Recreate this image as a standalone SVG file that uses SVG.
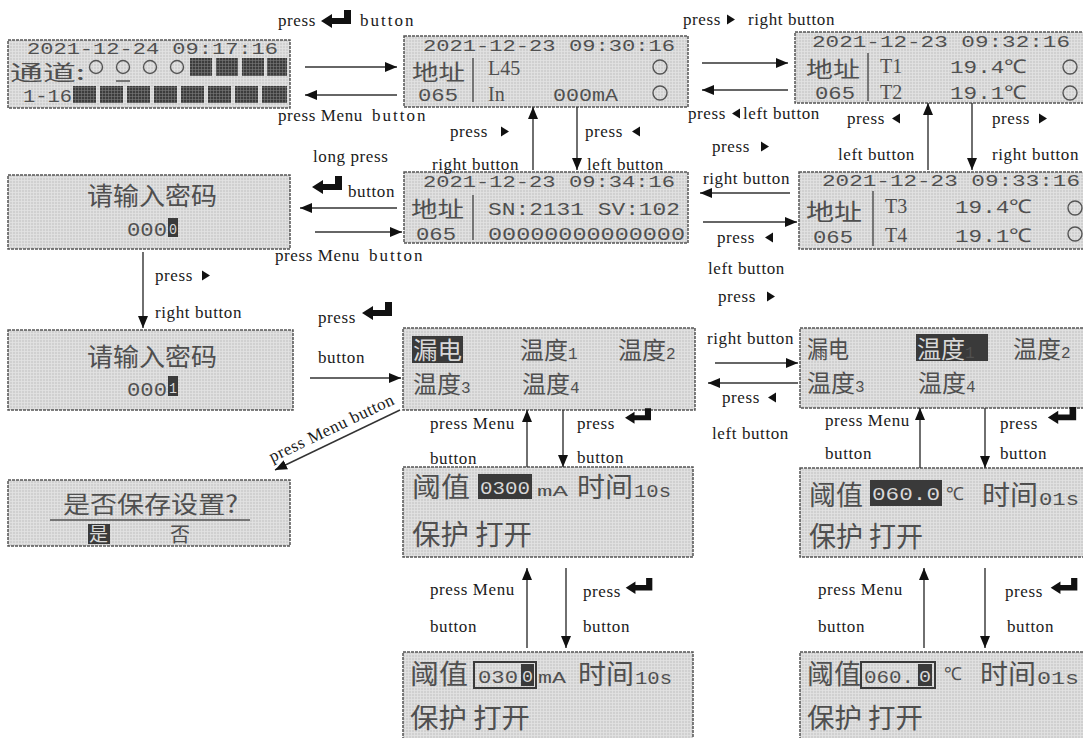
<svg xmlns="http://www.w3.org/2000/svg" width="1083" height="738" viewBox="0 0 1083 738">
<style>
.lbl{font-family:"Liberation Serif",serif;font-size:17px;letter-spacing:0.6px;fill:#1a1a1a}
.sp{letter-spacing:2px}
.cj{font-family:"Noto Sans CJK SC",sans-serif;fill:#4f4f4f}
.mo{font-family:"Liberation Mono",monospace;fill:#505050}
.sf{font-family:"Liberation Serif",serif;fill:#4f4f4f}
.inv{fill:#d8d8d8}
.scr{fill:url(#grid);stroke:#555;stroke-width:1.5;stroke-dasharray:3 1}
.dk{fill:url(#dgrid)}
.cur{fill:#3a3a3a}
.sep{stroke:#555;stroke-width:1.5}
.ring{fill:none;stroke:#555;stroke-width:1.4}
.ar{stroke:#333;stroke-width:1.4;fill:none;marker-end:url(#ah)}
</style>
<defs>
<pattern id="grid" width="3" height="3" patternUnits="userSpaceOnUse">
<rect width="3" height="3" fill="#d0d0d0"/>
<path d="M0 0.5H3M0.5 0V3" stroke="#e3e3e3" stroke-width="0.8"/>
</pattern>
<pattern id="dgrid" width="3" height="3" patternUnits="userSpaceOnUse">
<rect width="3" height="3" fill="#3c3c3c"/>
<path d="M0 0.5H3M0.5 0V3" stroke="#7a7a7a" stroke-width="0.6"/>
</pattern>
<marker id="ah" markerUnits="userSpaceOnUse" markerWidth="12" markerHeight="10" refX="12" refY="5" orient="auto" viewBox="0 0 12 10">
<path d="M0,0 L12,5 L0,10 z" fill="#111"/>
</marker>
<symbol id="ent" viewBox="0 0 30 18"><path d="M23 0H30V14H11V18L0 11L11 4V8H23Z" fill="#111"/></symbol>
<symbol id="tr" viewBox="0 0 8 10"><path d="M0 0L8 5L0 10Z" fill="#111"/></symbol>
<symbol id="tl" viewBox="0 0 8 10"><path d="M8 0L0 5L8 10Z" fill="#111"/></symbol>
</defs>
<rect width="1083" height="738" fill="#fff"/>

<g id="screenA">
<rect class="scr" x="8" y="40" width="282" height="68"/>
<text class="mo" x="27" y="54" font-size="17" textLength="251" lengthAdjust="spacingAndGlyphs">2021-12-24 09:17:16</text>
<text class="cj" x="10" y="80" font-size="21" textLength="75" lengthAdjust="spacingAndGlyphs">通道:</text>
<circle class="ring" cx="96" cy="67" r="6.5"/><circle class="ring" cx="123" cy="67" r="6.5"/><circle class="ring" cx="150" cy="67" r="6.5"/><circle class="ring" cx="177" cy="67" r="6.5"/>
<line class="sep" x1="116" y1="81" x2="130" y2="81"/>
<rect class="dk" x="190" y="58" width="22" height="18"/><rect class="dk" x="216" y="58" width="22" height="18"/><rect class="dk" x="242" y="58" width="22" height="18"/><rect class="dk" x="267" y="58" width="20" height="18"/>
<text class="mo" x="23" y="102" font-size="18" textLength="49" lengthAdjust="spacingAndGlyphs">1-16</text>
<rect class="dk" x="73" y="86" width="23" height="17"/><rect class="dk" x="100" y="86" width="23" height="17"/><rect class="dk" x="127" y="86" width="23" height="17"/><rect class="dk" x="154" y="86" width="23" height="17"/><rect class="dk" x="181" y="86" width="23" height="17"/><rect class="dk" x="208" y="86" width="23" height="17"/><rect class="dk" x="235" y="86" width="23" height="17"/><rect class="dk" x="262" y="86" width="25" height="17"/>
</g>

<g id="screenB">
<rect class="scr" x="404" y="36" width="284" height="71"/>
<text class="mo" x="423" y="51" font-size="17" textLength="252" lengthAdjust="spacingAndGlyphs">2021-12-23 09:30:16</text>
<text class="cj" x="412" y="80" font-size="22" textLength="53" lengthAdjust="spacingAndGlyphs">地址</text>
<line class="sep" x1="473" y1="58" x2="473" y2="102"/>
<text class="sf" x="488" y="75" font-size="20">L45</text>
<circle class="ring" cx="660" cy="67" r="7"/>
<text class="mo" x="418" y="101" font-size="19" textLength="40" lengthAdjust="spacingAndGlyphs">065</text>
<text class="sf" x="488" y="101" font-size="20">In</text>
<text class="mo" x="553" y="101" font-size="19" textLength="65" lengthAdjust="spacingAndGlyphs">000mA</text>
<circle class="ring" cx="660" cy="93" r="7"/>
</g>

<g id="screenC">
<rect class="scr" x="795" y="32" width="295" height="71"/>
<text class="mo" x="812" y="47" font-size="17" textLength="258" lengthAdjust="spacingAndGlyphs">2021-12-23 09:32:16</text>
<text class="cj" x="806" y="77" font-size="22" textLength="54" lengthAdjust="spacingAndGlyphs">地址</text>
<line class="sep" x1="868" y1="53" x2="868" y2="101"/>
<text class="sf" x="880" y="73" font-size="20">T1</text>
<text class="mo" x="950" y="73" font-size="19" textLength="77" lengthAdjust="spacingAndGlyphs">19.4℃</text>
<circle class="ring" cx="1070" cy="67" r="7"/>
<text class="mo" x="815" y="99" font-size="19" textLength="40" lengthAdjust="spacingAndGlyphs">065</text>
<text class="sf" x="880" y="99" font-size="20">T2</text>
<text class="mo" x="950" y="99" font-size="19" textLength="77" lengthAdjust="spacingAndGlyphs">19.1℃</text>
<circle class="ring" cx="1070" cy="93" r="7"/>
</g>

<g id="screenD">
<rect class="scr" x="404" y="172" width="284" height="71"/>
<text class="mo" x="423" y="187" font-size="17" textLength="252" lengthAdjust="spacingAndGlyphs">2021-12-23 09:34:16</text>
<text class="cj" x="411" y="217" font-size="22" textLength="53" lengthAdjust="spacingAndGlyphs">地址</text>
<line class="sep" x1="473" y1="195" x2="473" y2="240"/>
<text class="mo" x="488" y="215" font-size="19" textLength="192" lengthAdjust="spacingAndGlyphs">SN:2131 SV:102</text>
<text class="mo" x="416" y="240" font-size="19" textLength="40" lengthAdjust="spacingAndGlyphs">065</text>
<text class="mo" x="488" y="240" font-size="19" textLength="197" lengthAdjust="spacingAndGlyphs">00000000000000</text>
</g>

<g id="screenE">
<rect class="scr" x="799" y="172" width="290" height="77"/>
<text class="mo" x="822" y="186" font-size="17" textLength="258" lengthAdjust="spacingAndGlyphs">2021-12-23 09:33:16</text>
<text class="cj" x="806" y="220" font-size="23" textLength="56" lengthAdjust="spacingAndGlyphs">地址</text>
<line class="sep" x1="873" y1="191" x2="873" y2="246"/>
<text class="sf" x="885" y="213" font-size="20">T3</text>
<text class="mo" x="955" y="213" font-size="19" textLength="77" lengthAdjust="spacingAndGlyphs">19.4℃</text>
<circle class="ring" cx="1075" cy="208" r="7"/>
<text class="mo" x="813" y="243" font-size="19" textLength="40" lengthAdjust="spacingAndGlyphs">065</text>
<text class="sf" x="885" y="242" font-size="20">T4</text>
<text class="mo" x="955" y="242" font-size="19" textLength="77" lengthAdjust="spacingAndGlyphs">19.1℃</text>
<circle class="ring" cx="1075" cy="234" r="7"/>
</g>

<g id="screenF">
<rect class="scr" x="8" y="175" width="282" height="74"/>
<text class="cj" x="87" y="205" font-size="25" textLength="130" lengthAdjust="spacingAndGlyphs">请输入密码</text>
<text class="mo" x="127" y="236" font-size="20" textLength="40" lengthAdjust="spacingAndGlyphs">000</text>
<rect class="cur" x="168" y="218" width="10" height="19"/>
<text class="mo inv" x="169" y="234" font-size="14" textLength="8" lengthAdjust="spacingAndGlyphs">0</text>
</g>

<g id="screenG">
<rect class="scr" x="8" y="330" width="285" height="80"/>
<text class="cj" x="87" y="366" font-size="25" textLength="130" lengthAdjust="spacingAndGlyphs">请输入密码</text>
<text class="mo" x="127" y="396" font-size="20" textLength="40" lengthAdjust="spacingAndGlyphs">000</text>
<rect class="cur" x="168" y="376" width="10" height="20"/>
<text class="mo inv" x="169" y="393" font-size="14" textLength="8" lengthAdjust="spacingAndGlyphs">1</text>
</g>

<g id="screenH">
<rect class="scr" x="403" y="328" width="292" height="82"/>
<rect class="cur" x="412" y="336" width="51" height="27"/>
<text class="cj inv" x="413" y="359" font-size="24" textLength="49" lengthAdjust="spacingAndGlyphs">漏电</text>
<text class="cj" x="520" y="359" font-size="24">温度<tspan class="mo" font-size="16">1</tspan></text>
<text class="cj" x="618" y="359" font-size="24">温度<tspan class="mo" font-size="16">2</tspan></text>
<text class="cj" x="413" y="393" font-size="24">温度<tspan class="mo" font-size="16">3</tspan></text>
<text class="cj" x="522" y="393" font-size="24">温度<tspan class="mo" font-size="16">4</tspan></text>
</g>

<g id="screenI">
<rect class="scr" x="800" y="328" width="290" height="80"/>
<text class="cj" x="807" y="358" font-size="24" textLength="42" lengthAdjust="spacingAndGlyphs">漏电</text>
<rect class="cur" x="916" y="334" width="72" height="27"/>
<text class="cj inv" x="917" y="358" font-size="24">温度<tspan class="mo" font-size="16">1</tspan></text>
<text class="cj" x="1013" y="358" font-size="24">温度<tspan class="mo" font-size="16">2</tspan></text>
<text class="cj" x="807" y="392" font-size="24">温度<tspan class="mo" font-size="16">3</tspan></text>
<text class="cj" x="918" y="392" font-size="24">温度<tspan class="mo" font-size="16">4</tspan></text>
</g>

<g id="screenJ">
<rect class="scr" x="8" y="480" width="282" height="66"/>
<text class="cj" x="63" y="513" font-size="24" textLength="175" lengthAdjust="spacingAndGlyphs">是否保存设置?</text>
<line class="sep" x1="50" y1="520" x2="250" y2="520"/>
<rect class="cur" x="88" y="524" width="22" height="20"/>
<text class="cj inv" x="89" y="541" font-size="19">是</text>
<text class="cj" x="170" y="542" font-size="20">否</text>
</g>

<g id="screenK">
<rect class="scr" x="403" y="467" width="290" height="90"/>
<text class="cj" x="412" y="497" font-size="27" textLength="58" lengthAdjust="spacingAndGlyphs">阈值</text>
<rect class="cur" x="478" y="474" width="54" height="25"/>
<text class="mo inv" x="480" y="494" font-size="19" textLength="50" lengthAdjust="spacingAndGlyphs">0300</text>
<text class="mo" x="537" y="496" font-size="15" textLength="31" lengthAdjust="spacingAndGlyphs">mA</text>
<text class="cj" x="577" y="497" font-size="27" textLength="56" lengthAdjust="spacingAndGlyphs">时间</text>
<text class="mo" x="634" y="497" font-size="19" textLength="37" lengthAdjust="spacingAndGlyphs">10s</text>
<text class="cj" x="412" y="545" font-size="28" textLength="120" lengthAdjust="spacingAndGlyphs">保护 打开</text>
</g>

<g id="screenL">
<rect class="scr" x="800" y="468" width="290" height="89"/>
<text class="cj" x="809" y="505" font-size="27" textLength="54" lengthAdjust="spacingAndGlyphs">阈值</text>
<rect class="cur" x="870" y="480" width="72" height="26"/>
<text class="mo inv" x="872" y="500" font-size="19" textLength="68" lengthAdjust="spacingAndGlyphs">060.0</text>
<text class="mo" x="946" y="500" font-size="18">℃</text>
<text class="cj" x="982" y="505" font-size="27" textLength="56" lengthAdjust="spacingAndGlyphs">时间</text>
<text class="mo" x="1039" y="505" font-size="19" textLength="40" lengthAdjust="spacingAndGlyphs">01s</text>
<text class="cj" x="809" y="547" font-size="28" textLength="114" lengthAdjust="spacingAndGlyphs">保护 打开</text>
</g>

<g id="screenM">
<rect class="scr" x="403" y="652" width="290" height="92"/>
<text class="cj" x="410" y="684" font-size="27" textLength="58" lengthAdjust="spacingAndGlyphs">阈值</text>
<rect x="474" y="662" width="62" height="26" fill="none" stroke="#3a3a3a" stroke-width="2"/>
<text class="mo" x="478" y="683" font-size="19" textLength="40" lengthAdjust="spacingAndGlyphs">030</text>
<rect class="cur" x="521" y="664" width="13" height="22"/>
<text class="mo inv" x="522" y="682" font-size="16" textLength="11" lengthAdjust="spacingAndGlyphs">0</text>
<text class="mo" x="538" y="683" font-size="16" textLength="28" lengthAdjust="spacingAndGlyphs">mA</text>
<text class="cj" x="578" y="684" font-size="27" textLength="56" lengthAdjust="spacingAndGlyphs">时间</text>
<text class="mo" x="635" y="684" font-size="19" textLength="37" lengthAdjust="spacingAndGlyphs">10s</text>
<text class="cj" x="410" y="728" font-size="27" textLength="120" lengthAdjust="spacingAndGlyphs">保护 打开</text>
</g>

<g id="screenN">
<rect class="scr" x="800" y="652" width="290" height="92"/>
<text class="cj" x="807" y="684" font-size="27" textLength="54" lengthAdjust="spacingAndGlyphs">阈值</text>
<rect x="861" y="662" width="74" height="26" fill="none" stroke="#3a3a3a" stroke-width="2"/>
<text class="mo" x="864" y="683" font-size="19" textLength="50" lengthAdjust="spacingAndGlyphs">060.</text>
<rect class="cur" x="918" y="664" width="14" height="22"/>
<text class="mo inv" x="919" y="682" font-size="16" textLength="12" lengthAdjust="spacingAndGlyphs">0</text>
<text class="mo" x="944" y="680" font-size="18">℃</text>
<text class="cj" x="980" y="684" font-size="27" textLength="56" lengthAdjust="spacingAndGlyphs">时间</text>
<text class="mo" x="1037" y="684" font-size="19" textLength="42" lengthAdjust="spacingAndGlyphs">01s</text>
<text class="cj" x="807" y="728" font-size="27" textLength="116" lengthAdjust="spacingAndGlyphs">保护 打开</text>
</g>

<g id="connectors">
<line class="ar" x1="305" y1="67" x2="397" y2="67"/>
<line class="ar" x1="397" y1="95" x2="305" y2="95"/>
<line class="ar" x1="702" y1="63" x2="788" y2="63"/>
<line class="ar" x1="788" y1="90" x2="702" y2="90"/>
<line class="ar" x1="533" y1="170" x2="533" y2="107"/>
<line class="ar" x1="577" y1="107" x2="577" y2="170"/>
<line class="ar" x1="928" y1="170" x2="928" y2="103"/>
<line class="ar" x1="972" y1="103" x2="972" y2="170"/>
<line class="ar" x1="790" y1="193" x2="700" y2="193"/>
<line class="ar" x1="703" y1="222" x2="797" y2="222"/>
<line class="ar" x1="397" y1="208" x2="300" y2="208"/>
<line class="ar" x1="315" y1="232" x2="402" y2="232"/>
<line class="ar" x1="143" y1="252" x2="143" y2="328"/>
<line class="ar" x1="310" y1="378" x2="401" y2="378"/>
<line class="ar" x1="715" y1="363" x2="798" y2="363"/>
<line class="ar" x1="798" y1="383" x2="708" y2="383"/>
<line class="ar" x1="400" y1="410" x2="275" y2="470"/>
<line class="ar" x1="527" y1="467" x2="527" y2="410"/>
<line class="ar" x1="563" y1="410" x2="563" y2="467"/>
<line class="ar" x1="920" y1="468" x2="920" y2="408"/>
<line class="ar" x1="985" y1="408" x2="985" y2="468"/>
<line class="ar" x1="527" y1="648" x2="527" y2="568"/>
<line class="ar" x1="566" y1="568" x2="566" y2="648"/>
<line class="ar" x1="924" y1="648" x2="924" y2="568"/>
<line class="ar" x1="985" y1="568" x2="985" y2="648"/>
</g>

<g id="labels">
<text class="lbl" x="278" y="26">press</text><use href="#ent" x="321" y="10" width="30" height="18"/><text class="lbl sp" x="360" y="26">button</text>
<text class="lbl" x="278" y="121">press Menu</text><text class="lbl sp" x="372" y="121">button</text>
<text class="lbl" x="683" y="25">press</text><use href="#tr" x="727" y="14" width="8" height="11"/><text class="lbl" x="748" y="25">right button</text>
<text class="lbl" x="688" y="119">press</text><use href="#tl" x="732" y="108" width="8" height="11"/><text class="lbl" x="743" y="119">left button</text>
<text class="lbl" x="450" y="137">press</text><use href="#tr" x="501" y="126" width="8" height="11"/>
<text class="lbl" x="432" y="170">right button</text>
<text class="lbl" x="585" y="137">press</text><use href="#tl" x="632" y="126" width="8" height="11"/>
<text class="lbl" x="587" y="170">left button</text>
<text class="lbl" x="847" y="124">press</text><use href="#tl" x="892" y="113" width="8" height="11"/>
<text class="lbl" x="838" y="160">left button</text>
<text class="lbl" x="992" y="124">press</text><use href="#tr" x="1039" y="113" width="8" height="11"/>
<text class="lbl" x="992" y="160">right button</text>
<text class="lbl" x="712" y="152">press</text><use href="#tr" x="761" y="141" width="8" height="11"/>
<text class="lbl" x="703" y="184">right button</text>
<text class="lbl" x="717" y="243">press</text><use href="#tl" x="765" y="232" width="8" height="11"/>
<text class="lbl" x="708" y="274">left button</text>
<text class="lbl" x="718" y="302">press</text><use href="#tr" x="767" y="291" width="8" height="11"/>
<text class="lbl" x="313" y="162">long press</text>
<use href="#ent" x="312" y="176" width="30" height="18"/><text class="lbl" x="348" y="197">button</text>
<text class="lbl" x="275" y="261">press Menu</text><text class="lbl sp" x="369" y="261">button</text>
<text class="lbl" x="155" y="281">press</text><use href="#tr" x="202" y="270" width="8" height="11"/>
<text class="lbl" x="155" y="318">right button</text>
<text class="lbl" x="318" y="323">press</text><use href="#ent" x="362" y="302" width="30" height="18"/>
<text class="lbl" x="318" y="363">button</text>
<text class="lbl" x="707" y="344">right button</text>
<text class="lbl" x="722" y="403">press</text><use href="#tl" x="768" y="392" width="8" height="11"/>
<text class="lbl" x="712" y="439">left button</text>
<text class="lbl" text-anchor="middle" transform="translate(334,433) rotate(-25.6)">press Menu button</text>
<text class="lbl" x="430" y="429">press Menu</text><text class="lbl" x="430" y="464">button</text>
<text class="lbl" x="577" y="429">press</text><use href="#ent" x="625" y="408" width="26" height="16"/><text class="lbl" x="577" y="463">button</text>
<text class="lbl" x="825" y="426">press Menu</text><text class="lbl" x="825" y="459">button</text>
<text class="lbl" x="1000" y="429">press</text><use href="#ent" x="1047" y="407" width="30" height="17"/><text class="lbl" x="1000" y="459">button</text>
<text class="lbl" x="430" y="595">press Menu</text><text class="lbl" x="430" y="632">button</text>
<text class="lbl" x="583" y="597">press</text><use href="#ent" x="625" y="578" width="28" height="16"/><text class="lbl" x="583" y="632">button</text>
<text class="lbl" x="818" y="595">press Menu</text><text class="lbl" x="818" y="632">button</text>
<text class="lbl" x="1005" y="597">press</text><use href="#ent" x="1050" y="578" width="28" height="16"/><text class="lbl" x="1007" y="632">button</text>
</g>
</svg>
